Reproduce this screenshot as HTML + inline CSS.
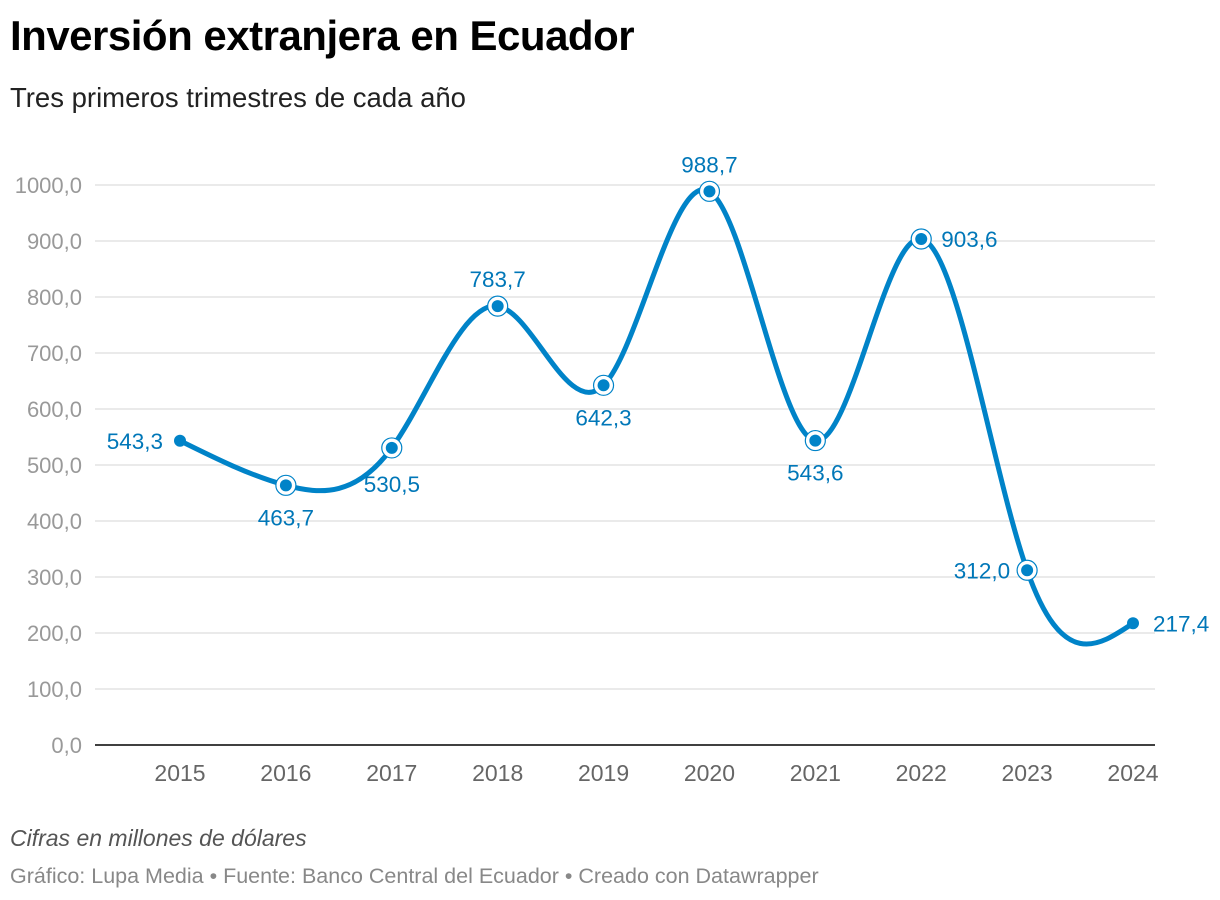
<!DOCTYPE html>
<html><head><meta charset="utf-8"><style>
body{margin:0;background:#fff;font-family:"Liberation Sans",sans-serif;}
#wrap{position:relative;width:1220px;height:900px;overflow:hidden}
h1{position:absolute;left:10px;top:12px;margin:0;font-size:42px;font-weight:bold;color:#000;letter-spacing:-0.5px}
.sub{position:absolute;left:10px;top:82px;font-size:27.5px;color:#222}
.note{position:absolute;left:10px;top:825px;font-size:23px;font-style:italic;color:#555}
.src{position:absolute;left:10px;top:864px;font-size:21.5px;color:#888}
</style></head><body><div id="wrap">
<h1>Inversión extranjera en Ecuador</h1>
<div class="sub">Tres primeros trimestres de cada año</div>
<svg id="c" width="1220" height="900" style="position:absolute;left:0;top:0"></svg>
<div class="note">Cifras en millones de dólares</div>
<div class="src">Gráfico: Lupa Media • Fuente: Banco Central del Ecuador • Creado con Datawrapper</div>
</div>
<script>
const years=[2015,2016,2017,2018,2019,2020,2021,2022,2023,2024];
const values=[543.3,463.7,530.5,783.7,642.3,988.7,543.6,903.6,312.0,217.4];
const labels=["543,3","463,7","530,5","783,7","642,3","988,7","543,6","903,6","312,0","217,4"];
const labelPos=["left","below","belowright","above","below","above","below","right","left","right"];
const yTicks=[0,100,200,300,400,500,600,700,800,900,1000];
const NS="http://www.w3.org/2000/svg",svg=document.getElementById('c');
const x=i=>180+i*(1133-180)/(years.length-1);
const y=v=>745-v*0.56;
function mk(t,a,txt){const e=document.createElementNS(NS,t);for(const k in a)e.setAttribute(k,a[k]);if(txt!=null)e.textContent=txt;svg.appendChild(e);return e;}
yTicks.forEach(t=>{
 if(t>0){const g=mk('line',{x1:95,x2:1155,y1:y(t),y2:y(t),stroke:'#e3e3e3','stroke-width':1.5});
 }
 const l=mk('text',{x:82,y:y(t)+8,'text-anchor':'end','font-size':22,fill:'#999'},t.toFixed(1).replace('.',','));
 
});
const base=mk('line',{x1:95,x2:1155,y1:745,y2:745,stroke:'#000','stroke-width':1.5});

years.forEach((yr,i)=>{const l=mk('text',{x:x(i),y:781,'text-anchor':'middle','font-size':23,fill:'#666'},yr);
 });
const P=values.map((v,i)=>[x(i),y(v)]);
function ctrl(xs){const n=xs.length-1,a=new Array(n),b=new Array(n),r=new Array(n);
 a[0]=0;b[0]=2;r[0]=xs[0]+2*xs[1];
 for(let i=1;i<n-1;i++){a[i]=1;b[i]=4;r[i]=4*xs[i]+2*xs[i+1];}
 a[n-1]=2;b[n-1]=7;r[n-1]=8*xs[n-1]+xs[n];
 for(let i=1;i<n;i++){const m=a[i]/b[i-1];b[i]-=m;r[i]-=m*r[i-1];}
 a[n-1]=r[n-1]/b[n-1];
 for(let i=n-2;i>=0;i--)a[i]=(r[i]-a[i+1])/b[i];
 b[n-1]=(xs[n]+a[n-1])/2;
 for(let i=0;i<n-1;i++)b[i]=2*xs[i+1]-a[i+1];
 return [a,b];}
const cx=ctrl(P.map(p=>p[0])),cy=ctrl(P.map(p=>p[1]));
let d='M'+P[0][0]+','+P[0][1];
for(let i=0;i<P.length-1;i++)d+=' C'+cx[0][i]+','+cy[0][i]+' '+cx[1][i]+','+cy[1][i]+' '+P[i+1][0]+','+P[i+1][1];
const line=mk('path',{d:d,fill:'none',stroke:'#0083c8','stroke-width':5,'stroke-linecap':'round'});

P.forEach((p,i)=>{
 if(i>0&&i<P.length-1){const r=mk('circle',{cx:p[0],cy:p[1],r:10,fill:'#fff',stroke:'#0083c8','stroke-width':1.2});
  }
 const c=mk('circle',{cx:p[0],cy:p[1],r:6,fill:'#0083c8'});
 
 let lx=p[0],ly=p[1]+8,a='middle';const pos=labelPos[i];
 if(pos=='left'){lx=p[0]-17;a='end';}
 else if(pos=='right'){lx=p[0]+20;a='start';}
 else if(pos=='above'){ly=p[1]-19;}
 else if(pos=='below'){ly=p[1]+40;}
 else if(pos=='belowright'){lx=p[0]-28;ly=p[1]+44;a='start';}
 const t=mk('text',{x:lx,y:ly,'text-anchor':a,'font-size':22.5,fill:'#0077b8'},labels[i]);
 
});
</script></body></html>
